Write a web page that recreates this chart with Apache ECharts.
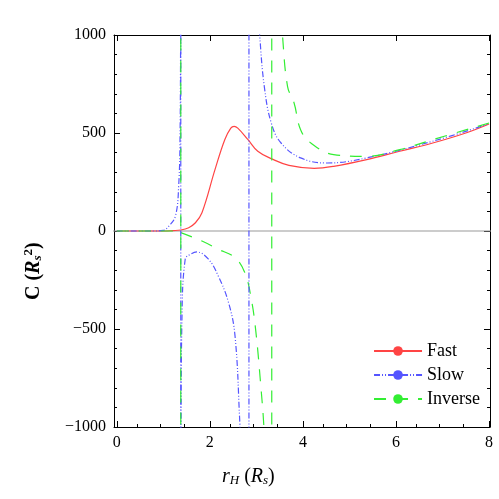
<!DOCTYPE html><html><head><meta charset="utf-8"><script src="https://cdn.jsdelivr.net/npm/echarts@6/dist/echarts.min.js"></script></head><body style="margin:0"><div id="c" style="width:499px;height:499px"></div><script>
const fastX=[0,0.5,1.0,1.2,1.375,1.545,1.69,1.83,2.11,2.32,2.45,2.52,2.6,2.82,3.03,3.33,3.7,4.24,4.66,5.37,6.08,6.79,7.5,8];
const fastY=[0,0,0,2,5,17,42,93,313,466,525,534,525,466,407,368,335,320,330,364,407,449,500,546];
const slow1X=[0,0.8,1.0,1.12,1.26,1.33,1.36,1.372];
const slow1Y=[0,0,3,25,76,229,500,1100];
const slow2X=[1.378,1.40,1.47,1.58,1.72,1.97,2.18,2.4,2.54,2.64,2.66];
const slow2Y=[-1100,-449,-144,-119,-107,-144,-229,-364,-534,-958,-1100];
const slow3X=[3.05,3.07,3.17,3.32,3.53,3.95,4.52,5.37,6.79,8];
const slow3Y=[1100,1000,737,551,449,373,347,373,458,547];
const inv1X=[0,0.8,1.0,1.375];
const inv1Y=[0,0,0,0];
const inv2X=[1.375,1.83,2.18,2.54,2.75,2.89,2.99,3.10,3.16,3.17];
const inv2Y=[-8,-51,-93,-136,-212,-347,-517,-805,-995,-1100];
const inv3X=[3.54,3.56,3.67,3.81,3.95,4.17,4.66,5.37,6.08,6.79,8];
const inv3Y=[1100,1000,737,653,517,449,390,381,415,466,551];
const slowPoles=[1.375,2.84];
const invPoles=[1.375,3.33];
const xTicks=[0,2,4,6,8];
const z=(a,b)=>a.map((x,i)=>[x,b[i]]);
const RED='#ff4444',BLUE='#5555ff',GREEN='#33ee33';
const fnt='Liberation Serif';
function ln(name,d,color,type,sm){return {name,type:'line',data:d,smooth:sm===false?false:0.4,showSymbol:false,symbol:'none',lineStyle:{color,type,width:1.2},itemStyle:{color},z:3,animation:false};}
const SD=[6,2,1,2,1,2],DD=[12,10];
const series=[
 ln('Fast',z(fastX,fastY),RED,'solid'),
 ln('Slow',z(slow1X,slow1Y),BLUE,SD),
 ln('Slow',z(slow2X,slow2Y),BLUE,SD),
 ln('Slow',z(slow3X,slow3Y),BLUE,SD),
 ln('Inverse',z(inv1X,inv1Y),GREEN,DD),
 ln('Inverse',z(inv2X,inv2Y),GREEN,DD),
 ln('Inverse',z(inv3X,inv3Y),GREEN,DD),
];
slowPoles.forEach(p=>series.push(ln('Slow',[[p,-1100],[p,1100]],BLUE,SD,false)));
invPoles.forEach(p=>series.push(ln('Inverse',[[p,-1100],[p,1100]],GREEN,DD,false)));
series.push({type:'line',data:[[-1,0],[9,0]],showSymbol:false,lineStyle:{color:'#999',width:1},z:1,silent:true,animation:false});
const tk={show:true,inside:true,length:6,lineStyle:{color:'#000'}};
const mt={show:true,length:3,lineStyle:{color:'#000'}};
const base={axisLine:{show:true,onZero:false,lineStyle:{color:'#000',width:1}},splitLine:{show:false}};
const opt={animation:false,
 grid:{left:114,right:9,top:35,bottom:72},
 legend:{orient:'vertical',right:14,bottom:86,itemWidth:48,itemHeight:12,itemGap:6,data:['Fast','Slow','Inverse'],textStyle:{fontFamily:fnt,fontSize:18,color:'#000'}},
 xAxis:[{...base,type:'value',min:-0.06,max:8.02,interval:2,axisTick:{...tk,customValues:xTicks},minorTick:{...mt,splitNumber:4},axisLabel:{fontFamily:fnt,fontSize:16,color:'#000',customValues:xTicks}},
  {...base,type:'value',position:'top',min:-0.06,max:8.02,axisTick:{...tk,customValues:xTicks},axisLabel:{show:false}}],
 yAxis:[{...base,type:'value',min:-1000,max:1000,interval:500,axisTick:tk,minorTick:{...mt,splitNumber:5},axisLabel:{fontFamily:fnt,fontSize:16,color:'#000',formatter:v=>v<0?'\u2212'+(-v):String(v)}},
  {...base,type:'value',position:'right',min:-1000,max:1000,interval:500,axisTick:tk,minorTick:{...mt,splitNumber:5},axisLabel:{show:false}}],
 graphic:[
  {type:'text',x:222,y:466,style:{text:'{i|r}{s|H} ({i|R}{s|s})',fill:'#000',rich:{i:{fontFamily:fnt,fontStyle:'italic',fontSize:20},s:{fontFamily:fnt,fontStyle:'italic',fontSize:13,padding:[8,0,0,0]}},font:'20px '+fnt}},
  {type:'text',x:22,y:300,rotation:Math.PI/2,style:{text:'C ({i|R}{s|s}{p|2})',font:'bold 20px '+fnt,fill:'#000',rich:{i:{fontFamily:fnt,fontStyle:'italic',fontWeight:'bold',fontSize:20},s:{fontFamily:fnt,fontStyle:'italic',fontWeight:'bold',fontSize:13,padding:[8,0,0,0]},p:{fontFamily:fnt,fontWeight:'bold',fontSize:13,padding:[0,0,10,0]}}}}
 ],
 series};
echarts.init(document.getElementById('c')).setOption(opt);
</script></body></html>
